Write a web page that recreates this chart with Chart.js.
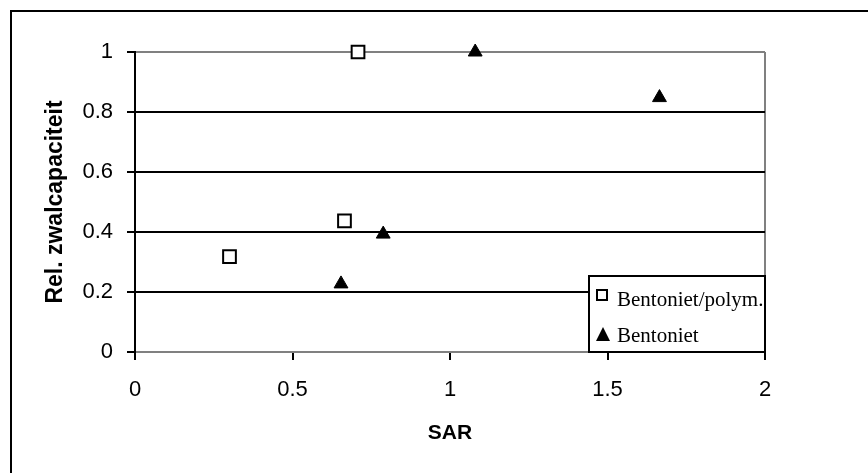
<!DOCTYPE html>
<html>
<head>
<meta charset="utf-8">
<script src="https://cdn.jsdelivr.net/npm/chart.js@4/dist/chart.umd.min.js"></script>
<style>
  html, body { margin: 0; padding: 0; background: #fff; overflow: hidden; }
  #wrap { position: relative; width: 868px; height: 473px; }
  #frame {
    position: absolute; left: 10px; top: 10px; width: 900px; height: 500px;
    border-left: 2px solid #000; border-top: 2px solid #000;
  }
  #cvs { position: absolute; left: 0; top: 0; }
</style>
</head>
<body>
<div id="wrap">
  <div id="frame"></div>
  <canvas id="cvs" width="868" height="473"></canvas>
</div>
<script>
//-------------------------------------------------------------------
// data
//-------------------------------------------------------------------
const seriesNames = ['Bentoniet/polym.', 'Bentoniet'];

const polymSAR = [0.30, 0.665, 0.708];
const polymRel = [0.318, 0.437, 1.0];

const bentSAR = [0.654, 0.788, 1.08, 1.665];
const bentRel = [0.227, 0.393, 1.0, 0.848];

const xTicks = [0, 0.5, 1, 1.5, 2];
const xTickLabels = ['0', '0.5', '1', '1.5', '2'];
const yTicks = [0, 0.2, 0.4, 0.6, 0.8, 1];
const yTickLabels = ['0', '0.2', '0.4', '0.6', '0.8', '1'];

const xTitle = 'SAR';
const yTitle = 'Rel. zwalcapaciteit';

//-------------------------------------------------------------------
// helpers
//-------------------------------------------------------------------
function toPoints(xs, ys) {
  const pts = [];
  for (let i = 0; i < xs.length; i++) {
    pts.push({ x: xs[i], y: ys[i] });
  }
  return pts;
}

function fixTicks(list) {
  return function (scale) {
    scale.ticks = list.map(v => ({ value: v }));
  };
}

function labelFrom(list) {
  return function (value, index) {
    return list[index];
  };
}

function drawMarker(ctx, style, x, y) {
  ctx.save();
  ctx.fillStyle = '#000';
  ctx.strokeStyle = '#000';
  if (style === 'rect') {
    ctx.lineWidth = 2;
    ctx.fillStyle = '#fff';
    ctx.fillRect(x - 5, y - 5, 10, 10);
    ctx.strokeRect(x - 5, y - 5, 10, 10);
  } else {
    ctx.beginPath();
    ctx.moveTo(x, y - 7);
    ctx.lineTo(x + 7, y + 7);
    ctx.lineTo(x - 7, y + 7);
    ctx.closePath();
    ctx.fill();
  }
  ctx.restore();
}

// legend box sitting in the lower right corner of the plot area
const boxLegend = {
  id: 'boxLegend',
  afterDraw(chart) {
    const ctx = chart.ctx;
    const area = chart.chartArea;
    const w = 176, h = 76;
    const left = area.right - w;
    const top = area.bottom - h;

    ctx.save();
    ctx.fillStyle = '#fff';
    ctx.fillRect(left, top, w, h);

    ctx.beginPath();
    ctx.rect(left, top, w, h);
    ctx.clip();

    const rows = [
      { markY: 19, textY: 30 },
      { markY: 58, textY: 66 }
    ];
    chart.data.datasets.forEach((ds, i) => {
      drawMarker(ctx, ds.pointStyle, left + 13 + i, top + rows[i].markY);
      ctx.fillStyle = '#000';
      ctx.font = '21px "Liberation Serif", "Times New Roman", serif';
      ctx.textBaseline = 'alphabetic';
      ctx.textAlign = 'left';
      ctx.fillText(ds.label, left + 28, top + rows[i].textY);
    });
    ctx.restore();

    ctx.save();
    ctx.lineWidth = 2;
    ctx.strokeStyle = '#000';
    ctx.strokeRect(left, top, w, h);
    ctx.restore();
  }
};

//-------------------------------------------------------------------
// chart
//-------------------------------------------------------------------
const tickFont = { family: '"Liberation Sans", Arial, sans-serif', size: 22 };

new Chart(document.getElementById('cvs').getContext('2d'), {
  type: 'scatter',
  data: {
    datasets: [
      {
        label: seriesNames[0],
        data: toPoints(polymSAR, polymRel),
        pointStyle: 'rect',
        pointRadius: 9,
        backgroundColor: '#fff',
        borderColor: '#000',
        borderWidth: 2,
        clip: false
      },
      {
        label: seriesNames[1],
        data: toPoints(bentSAR, bentRel),
        pointStyle: 'triangle',
        pointRadius: 8,
        backgroundColor: '#000',
        borderColor: '#000',
        borderWidth: 1,
        clip: false
      }
    ]
  },
  options: {
    responsive: false,
    animation: false,
    devicePixelRatio: 1,
    layout: { padding: { left: 0, top: 52, right: 103, bottom: 0 } },
    plugins: {
      legend: { display: false },
      tooltip: { enabled: false }
    },
    scales: {
      x: {
        type: 'linear',
        min: 0,
        max: 2,
        afterBuildTicks: fixTicks(xTicks),
        afterFit(scale) { scale.height = 121; },
        border: { display: true, color: '#808080', width: 2 },
        grid: {
          color: c => (c.tick && c.tick.value === 2) ? '#808080' : 'rgba(0,0,0,0)',
          lineWidth: 2,
          tickColor: '#000',
          tickWidth: 2,
          tickLength: 8
        },
        ticks: { color: '#000', font: tickFont, padding: 17, maxRotation: 0, callback: labelFrom(xTickLabels) },
        title: {
          display: true,
          text: xTitle,
          color: '#000',
          font: { family: '"Liberation Sans", Arial, sans-serif', size: 21, weight: 'bold' },
          padding: { top: 0, bottom: 27 }
        }
      },
      y: {
        type: 'linear',
        min: 0,
        max: 1,
        afterBuildTicks: fixTicks(yTicks),
        afterFit(scale) { scale.width = 135; },
        border: { display: true, color: '#000', width: 2 },
        grid: {
          color: c => (c.tick && (c.tick.value === 1 || c.tick.value === 0)) ? '#808080' : '#000',
          lineWidth: 2,
          tickColor: '#000',
          tickWidth: 2,
          tickLength: 8
        },
        ticks: { color: '#000', font: tickFont, padding: 14, callback: labelFrom(yTickLabels) },
        title: {
          display: true,
          text: yTitle,
          color: '#000',
          font: { family: '"Liberation Sans", Arial, sans-serif', size: 23, weight: 'bold' },
          padding: { top: 42, bottom: 0 }
        }
      }
    }
  },
  plugins: [boxLegend]
});
</script>
</body>
</html>
